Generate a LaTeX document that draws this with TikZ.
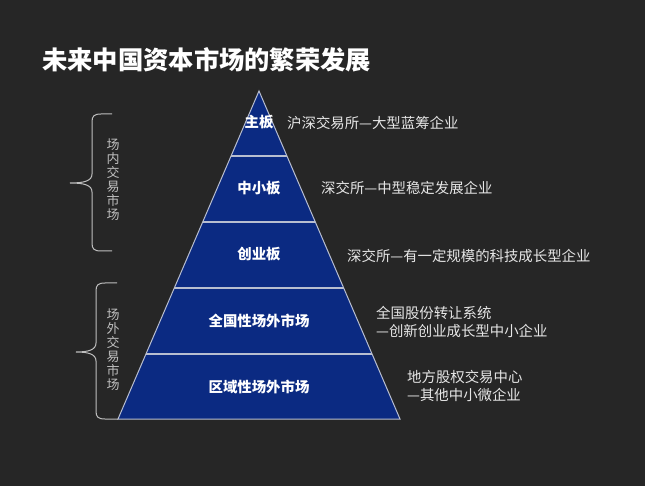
\documentclass[tikz,border=0pt]{standalone}
\usepackage{fontspec}
\setmainfont{Noto Sans CJK SC}
\usetikzlibrary{calc}
\definecolor{bg}{HTML}{262626}
\definecolor{pyr}{HTML}{0B2A82}
\definecolor{edgec}{HTML}{B8BED0}
\definecolor{txt}{HTML}{E6E6E6}
\definecolor{bracec}{HTML}{BFBFBF}
\tikzset{
  lbl/.style={inner sep=0pt, text=white, font=\fontsize{14.4}{17}\selectfont\bfseries},
  desc/.style={inner sep=0pt, anchor=west, text=txt, align=left, font=\fontsize{14.4}{18}\selectfont},
  vtext/.style={inner sep=0pt, text=bracec, align=center, font=\fontsize{13}{14}\selectfont},
  bracel/.style={draw=bracec, line width=1pt},
  divider/.style={draw=edgec, line width=1.3pt}
}
\begin{document}
\begin{tikzpicture}[x=1pt,y=-1pt]
\fill[bg] (0,0) rectangle (645,486);
\useasboundingbox (0,0) rectangle (645,486);
% title
\node[inner sep=0pt, anchor=west, text=white, font=\fontsize{25.3}{30}\selectfont\bfseries] (title) at (42,60) {未来中国资本市场的繁荣发展};
% pyramid
\coordinate (apex) at (259,91);
\coordinate (bl) at (118,419);
\coordinate (br) at (400,419);
\fill[pyr] (apex) -- (br) -- (bl) -- cycle;
\foreach \n/\t in {1/0.19817,2/0.39939,3/0.60061,4/0.80183}{
  \coordinate (l\n) at ($(apex)!\t!(bl)$);
  \coordinate (r\n) at ($(apex)!\t!(br)$);
  \draw[divider] (l\n) -- (r\n);
}
\draw[draw=edgec, line width=1pt, line join=miter] (apex) -- (br) -- (bl) -- cycle;
% labels
\node[lbl] (zb) at (259,122) {主板};
\node[lbl] (zxb) at (259,188) {中小板};
\node[lbl] (cyb) at (259,254) {创业板};
\node[lbl] (qg) at (259,321) {全国性场外市场};
\node[lbl] (qy) at (259,387) {区域性场外市场};
% descriptions
\node[desc] (d1) at (287,123) {沪深交易所—大型蓝筹企业};
\node[desc] (d2) at (321,188) {深交所—中型稳定发展企业};
\node[desc] (d3) at (347,256) {深交所—有一定规模的科技成长型企业};
\node[desc] (d4) at (376,321.5) {全国股份转让系统\\—创新创业成长型中小企业};
\node[desc] (d5) at (407,386) {地方股权交易中心\\—其他中小微企业};
% braces
\coordinate (b1t) at (112,114);
\coordinate (b1tip) at (70,183);
\coordinate (b1b) at (112,251);
\draw[bracel] (b1t) -- (101,114) .. controls (94,114) and (92,116) .. (92,122)
  -- (92,174) .. controls (92,181) and (84,183) .. (b1tip)
  .. controls (84,183) and (92,185) .. (92,192)
  -- (92,243) .. controls (92,249) and (94,251) .. (101,251) -- (b1b);
\coordinate (b2t) at (117,283);
\coordinate (b2tip) at (76,352);
\coordinate (b2b) at (118,419);
\draw[bracel] (b2t) -- (105,283) .. controls (98,283) and (96,285) .. (96,291)
  -- (96,343) .. controls (96,350) and (88,352) .. (b2tip)
  .. controls (88,352) and (96,354) .. (96,361)
  -- (96,411) .. controls (96,417) and (98,419) .. (105,419) -- (b2b);
\node[vtext] (v1) at (113,180) {场\\内\\交\\易\\市\\场};
\node[vtext] (v2) at (113,350) {场\\外\\交\\易\\市\\场};
\end{tikzpicture}
\end{document}
